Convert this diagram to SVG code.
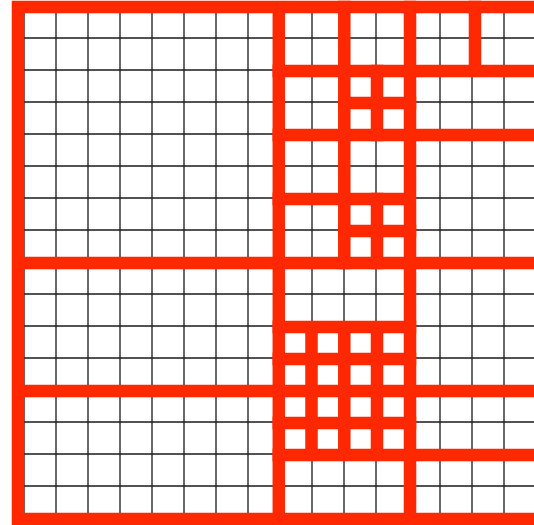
<svg xmlns="http://www.w3.org/2000/svg" width="534" height="525" viewBox="0 0 534 525">
<style>
.grid{fill:none;stroke:#1a1a1a;stroke-width:1.3}
.part{fill:none;stroke:#ff2800;stroke-width:12.5;stroke-linecap:square}
</style>
<rect width="534" height="525" fill="#ffffff"/>
<g id="fine-grid">
<path class="grid" d="M24 6V518M56 6V518M88 6V518M120 6V518M152 6V518M184 6V518M216 6V518M248 6V518M280 6V518M312 6V518M344 6V518M376 6V518M408 6V518M440 6V518M472 6V518M504 6V518M536 6V518"/>
<path class="grid" d="M24 6H536M24 38H536M24 70H536M24 102H536M24 134H536M24 166H536M24 198H536M24 230H536M24 262H536M24 294H536M24 326H536M24 358H536M24 390H536M24 422H536M24 454H536M24 486H536M24 518H536"/>
</g>
<g id="partition">
<path class="part" d="M18 7V519M18 7H541M18 519H541M278.8 7V519M18 263H541M18 391H541"/>
<path class="part" d="M344.3 7V263M410 7V519M475 7V71M278.8 71H541M278.8 135H541M278.8 199H410"/>
<path class="part" d="M377 71V135M344.3 103H410M377 199V263M344.3 231H410"/>
<path class="part" d="M278.8 327H410M278.8 455H541M311.5 327V455M344.3 327V455M377 327V455M278.8 359H410M278.8 423H410"/>
</g>
</svg>
